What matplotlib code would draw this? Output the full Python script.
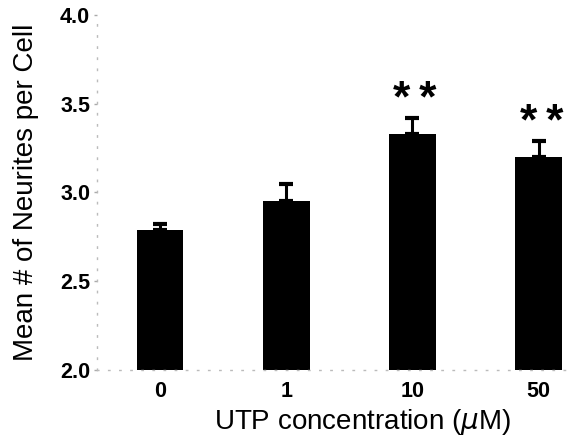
import matplotlib.pyplot as plt

plt.rcParams['font.family'] = ['Liberation Sans', 'DejaVu Sans']

concentrations = ['0', '1', '10', '50']
mean_neurites = [2.79, 2.95, 3.33, 3.20]
sem_neurites = [0.03, 0.10, 0.09, 0.09]
significance = ['', '', '**', '**']

fig = plt.figure(figsize=(5.74, 4.44), dpi=100)
ax = fig.add_axes([0.169, 0.167, 0.831, 0.799])

x = range(len(concentrations))
ax.bar(x, mean_neurites, width=0.37, color='black', zorder=2)
ax.errorbar(x, mean_neurites, yerr=[[0] * len(x), sem_neurites],
            fmt='none', ecolor='black', elinewidth=2.2, capsize=5,
            capthick=3, zorder=3)

# significance stars above the error bars, spaced apart a little
for i, (m, s, mark) in enumerate(zip(mean_neurites, sem_neurites, significance)):
    if mark:
        ax.text(i + 0.02, m + s + 0.10, '\u2009'.join(mark), ha='center',
                va='center', fontsize=32, fontweight='bold')

ax.set_xlim(-0.5, 3.28)
ax.set_ylim(2.0, 4.0)
ax.set_yticks([2.0, 2.5, 3.0, 3.5, 4.0])
ax.set_yticklabels(['2.0', '2.5', '3.0', '3.5', '4.0'])
ax.set_xticks(list(x))
ax.set_xticklabels(concentrations)

ax.tick_params(axis='y', length=2, width=1, color='#aaaaaa', pad=3,
               labelsize=15.5)
ax.tick_params(axis='x', length=0, pad=8, labelsize=15.5)
for lbl in ax.get_xticklabels() + ax.get_yticklabels():
    lbl.set_fontweight('bold')

for side in ['top', 'right']:
    ax.spines[side].set_visible(False)
for side in ['left', 'bottom']:
    ax.spines[side].set_linestyle((0, (1, 7)))
    ax.spines[side].set_color('#bbbbbb')
    ax.spines[side].set_linewidth(1)

ax.set_xlabel('UTP concentration ($\\mu$M)', fontsize=20)
ax.xaxis.set_label_coords(0.556, -0.105)
ax.set_ylabel('Mean # of Neurites per Cell', fontsize=20, labelpad=15)

fig.savefig('out.png', dpi=100)
